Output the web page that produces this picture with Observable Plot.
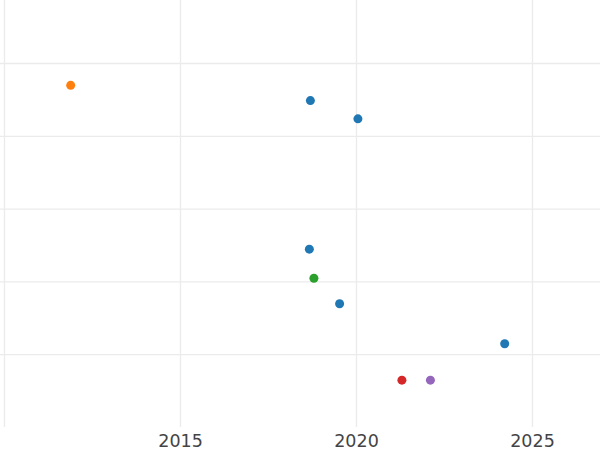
<!DOCTYPE html>
<html>
<head>
<meta charset="utf-8">
<script src="https://cdn.jsdelivr.net/npm/d3@7"></script>
<script src="https://cdn.jsdelivr.net/npm/@observablehq/plot@0.6"></script>
<style>
  html, body { margin: 0; padding: 0; background: #fff; }
  #chart svg { display: block; }
</style>
</head>
<body>
<div id="chart"></div>
<script>
// Data
const years  = [2011.88, 2018.69, 2020.04, 2018.66, 2018.79, 2019.52, 2024.21, 2021.29, 2022.1];
const values = [4.70, 4.49, 4.24, 2.45, 2.05, 1.70, 1.15, 0.65, 0.65];
const groups = ["B", "A", "A", "A", "C", "A", "A", "D", "E"];

const groupNames  = ["A", "B", "C", "D", "E"];
const groupColors = ["#1f77b4", "#ff7f0e", "#2ca02c", "#d62728", "#9467bd"];

const xTicks = [2015, 2020, 2025];
const xGrid  = [2010, 2015, 2020, 2025];
const yGrid  = [1, 2, 3, 4, 5];

const data = years.map((x, i) => ({x, y: values[i], g: groups[i]}));

const chart = Plot.plot({
  width: 600,
  height: 450,
  marginLeft: 0,
  marginRight: 0,
  marginTop: 0,
  marginBottom: 23,
  style: {fontFamily: "'DejaVu Sans', sans-serif", background: "#fff"},
  x: {domain: [2009.886, 2026.932], ticks: xTicks, tickFormat: d => String(d)},
  y: {domain: [0, 5.865], axis: null},
  color: {domain: groupNames, range: groupColors},
  marks: [
    Plot.ruleX(xGrid, {stroke: "#ebebeb", strokeWidth: 1.3}),
    Plot.ruleY(yGrid, {stroke: "#ebebeb", strokeWidth: 1.3}),
    Plot.axisX({ticks: xTicks, tickSize: 0, tickPadding: 7, fontSize: 17.5, fill: "#444", tickFormat: d => String(d), label: null}),
    Plot.dot(data, {x: "x", y: "y", fill: "g", r: 4.5, stroke: null})
  ]
});
document.getElementById("chart").appendChild(chart);
</script>
</body>
</html>
